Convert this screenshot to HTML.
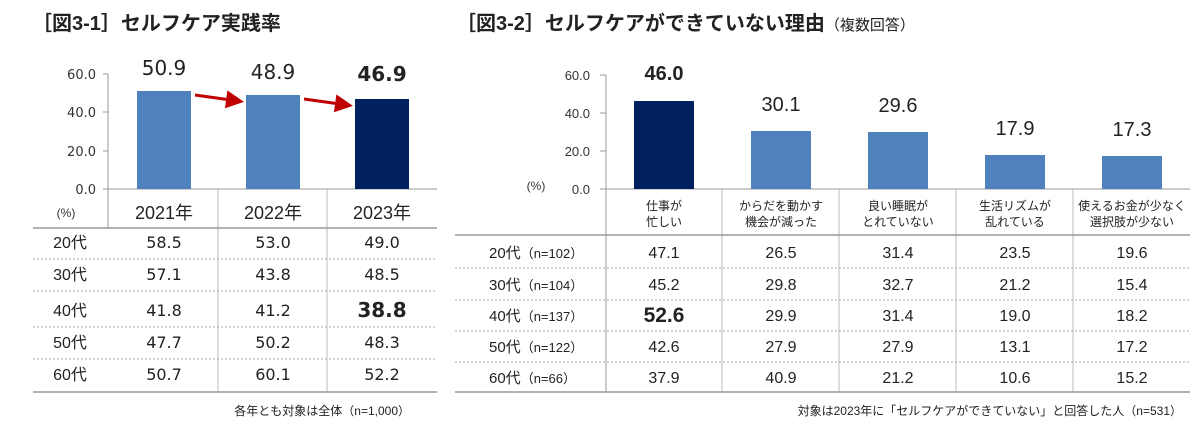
<!DOCTYPE html>
<html><head><meta charset="utf-8"><style>
html,body{margin:0;padding:0;background:#fff;}
svg{display:block;}
.j{font-family:"Liberation Sans","Noto Sans CJK JP",sans-serif;}
.n{font-family:"DejaVu Sans","Noto Sans CJK JP",sans-serif;}
</style></head><body>
<svg width="1200" height="429" xmlns="http://www.w3.org/2000/svg">
<defs><marker id="ah" markerWidth="6" markerHeight="6" refX="4" refY="3" orient="auto"><path d="M0,0 L6,3 L0,6 z" fill="#c00000"/></marker></defs>
<!-- Chart 1 -->
<text x="32" y="30" class="j" font-size="20" font-weight="bold" fill="#222">［図3-1］セルフケア実践率</text>
<g class="n" font-size="13" fill="#333" text-anchor="end">
<text x="96" y="79">60.0</text><text x="96" y="117">40.0</text><text x="96" y="156">20.0</text><text x="96" y="194">0.0</text>
</g>
<line x1="108" y1="74" x2="108" y2="228" stroke="#999"/>
<g stroke="#999"><line x1="103" y1="74" x2="108" y2="74"/><line x1="103" y1="112" x2="108" y2="112"/><line x1="103" y1="151" x2="108" y2="151"/></g>
<line x1="103" y1="189" x2="437" y2="189" stroke="#999"/>
<rect x="137" y="91" width="54" height="98" fill="#4f81bd"/>
<rect x="246" y="95" width="54" height="94" fill="#4f81bd"/>
<rect x="355" y="99" width="54" height="90" fill="#002060"/>
<line x1="195" y1="95" x2="238" y2="101" stroke="#c00000" stroke-width="3" marker-end="url(#ah)"/>
<line x1="304" y1="99" x2="347" y2="105" stroke="#c00000" stroke-width="3" marker-end="url(#ah)"/>
<g class="n" font-size="20" fill="#222" text-anchor="middle">
<text x="164" y="75">50.9</text><text x="273" y="79">48.9</text><text x="382" y="81" font-weight="bold">46.9</text>
</g>
<line x1="218" y1="189" x2="218" y2="392" stroke="#bbb"/><line x1="327" y1="189" x2="327" y2="392" stroke="#bbb"/>
<g class="j" font-size="18" fill="#222" text-anchor="middle">
<text x="164" y="219">2021年</text><text x="273" y="219">2022年</text><text x="382" y="219">2023年</text>
</g>
<text x="66" y="217" class="j" font-size="12" fill="#333" text-anchor="middle">(%)</text>
<line x1="33" y1="228" x2="437" y2="228" stroke="#999" stroke-width="1.5"/>
<g stroke="#aaa" stroke-dasharray="2,2"><line x1="33" y1="259" x2="437" y2="259"/><line x1="33" y1="291" x2="437" y2="291"/><line x1="33" y1="327" x2="437" y2="327"/><line x1="33" y1="359" x2="437" y2="359"/></g>
<line x1="33" y1="392" x2="437" y2="392" stroke="#999" stroke-width="1.5"/>
<g class="j" font-size="16" fill="#222" text-anchor="middle">
<text x="70" y="248">20代</text><text x="70" y="280">30代</text><text x="70" y="316">40代</text><text x="70" y="348">50代</text><text x="70" y="380">60代</text>
</g>
<g class="n" font-size="16" fill="#222" text-anchor="middle">
<text x="164" y="248">58.5</text><text x="273" y="248">53.0</text><text x="382" y="248">49.0</text>
<text x="164" y="280">57.1</text><text x="273" y="280">43.8</text><text x="382" y="280">48.5</text>
<text x="164" y="316">41.8</text><text x="273" y="316">41.2</text><text x="382" y="317" font-size="20" font-weight="bold">38.8</text>
<text x="164" y="348">47.7</text><text x="273" y="348">50.2</text><text x="382" y="348">48.3</text>
<text x="164" y="380">50.7</text><text x="273" y="380">60.1</text><text x="382" y="380">52.2</text>
</g>
<text x="410" y="415" class="j" font-size="12" fill="#222" text-anchor="end">各年とも対象は全体（n=1,000）</text>

<!-- Chart 2 -->
<text x="456" y="30" class="j" font-size="20" font-weight="bold" fill="#222">［図3-2］セルフケアができていない理由<tspan font-size="15" font-weight="normal">（複数回答）</tspan></text>
<g class="j" font-size="13" fill="#333" text-anchor="end">
<text x="590" y="80">60.0</text><text x="590" y="118">40.0</text><text x="590" y="156">20.0</text><text x="590" y="194">0.0</text>
</g>
<text x="536" y="190" class="j" font-size="12" fill="#333" text-anchor="middle">(%)</text>
<line x1="606" y1="75" x2="606" y2="392" stroke="#999"/>
<g stroke="#999"><line x1="600" y1="75" x2="606" y2="75"/><line x1="600" y1="113" x2="606" y2="113"/><line x1="600" y1="151" x2="606" y2="151"/></g>
<line x1="600" y1="189" x2="1190" y2="189" stroke="#999"/>
<rect x="634" y="101" width="60" height="88" fill="#002060"/>
<rect x="751" y="131" width="60" height="58" fill="#4f81bd"/>
<rect x="868" y="132" width="60" height="57" fill="#4f81bd"/>
<rect x="985" y="155" width="60" height="34" fill="#4f81bd"/>
<rect x="1102" y="156" width="60" height="33" fill="#4f81bd"/>
<g class="j" font-size="20" fill="#222" text-anchor="middle">
<text x="664" y="80" font-weight="bold">46.0</text><text x="781" y="111">30.1</text><text x="898" y="112">29.6</text><text x="1015" y="135">17.9</text><text x="1132" y="136">17.3</text>
</g>
<g stroke="#bbb"><line x1="722" y1="189" x2="722" y2="392"/><line x1="839" y1="189" x2="839" y2="392"/><line x1="956" y1="189" x2="956" y2="392"/><line x1="1073" y1="189" x2="1073" y2="392"/></g>
<g class="j" font-size="12" fill="#222" text-anchor="middle">
<text x="664" y="210">仕事が</text><text x="664" y="226">忙しい</text>
<text x="781" y="210">からだを動かす</text><text x="781" y="226">機会が減った</text>
<text x="898" y="210">良い睡眠が</text><text x="898" y="226">とれていない</text>
<text x="1015" y="210">生活リズムが</text><text x="1015" y="226">乱れている</text>
<text x="1132" y="210">使えるお金が少なく</text><text x="1132" y="226">選択肢が少ない</text>
</g>
<line x1="455" y1="235" x2="1190" y2="235" stroke="#999" stroke-width="1.5"/>
<g stroke="#aaa" stroke-dasharray="2,2"><line x1="455" y1="268" x2="1190" y2="268"/><line x1="455" y1="300" x2="1190" y2="300"/><line x1="455" y1="331" x2="1190" y2="331"/><line x1="455" y1="362" x2="1190" y2="362"/></g>
<line x1="455" y1="392" x2="1190" y2="392" stroke="#999" stroke-width="1.5"/>
<g class="j" font-size="15" fill="#222">
<text x="489" y="258">20代<tspan font-size="13">（n=102）</tspan></text>
<text x="489" y="290">30代<tspan font-size="13">（n=104）</tspan></text>
<text x="489" y="321">40代<tspan font-size="13">（n=137）</tspan></text>
<text x="489" y="352">50代<tspan font-size="13">（n=122）</tspan></text>
<text x="489" y="383">60代<tspan font-size="13">（n=66）</tspan></text>
</g>
<g class="j" font-size="16" fill="#222" text-anchor="middle">
<text x="664" y="258">47.1</text><text x="781" y="258">26.5</text><text x="898" y="258">31.4</text><text x="1015" y="258">23.5</text><text x="1132" y="258">19.6</text>
<text x="664" y="290">45.2</text><text x="781" y="290">29.8</text><text x="898" y="290">32.7</text><text x="1015" y="290">21.2</text><text x="1132" y="290">15.4</text>
<text x="664" y="322" font-size="21" font-weight="bold">52.6</text><text x="781" y="321">29.9</text><text x="898" y="321">31.4</text><text x="1015" y="321">19.0</text><text x="1132" y="321">18.2</text>
<text x="664" y="352">42.6</text><text x="781" y="352">27.9</text><text x="898" y="352">27.9</text><text x="1015" y="352">13.1</text><text x="1132" y="352">17.2</text>
<text x="664" y="383">37.9</text><text x="781" y="383">40.9</text><text x="898" y="383">21.2</text><text x="1015" y="383">10.6</text><text x="1132" y="383">15.2</text>
</g>
<text x="1182" y="415" class="j" font-size="12" fill="#222" text-anchor="end">対象は2023年に「セルフケアができていない」と回答した人（n=531）</text>
</svg>
</body></html>
